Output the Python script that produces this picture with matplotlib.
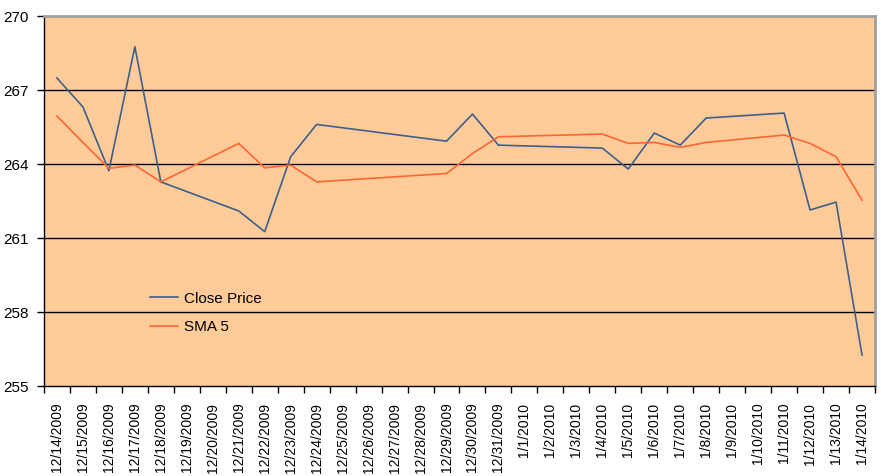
import pandas as pd
import matplotlib
matplotlib.use("Agg")
import matplotlib.pyplot as plt

# calendar axis (one category per day) and the trading days that carry data
start, end = "2009-12-14", "2010-01-14"
trade_days = ["2009-12-14", "2009-12-15", "2009-12-16", "2009-12-17", "2009-12-18",
              "2009-12-21", "2009-12-22", "2009-12-23", "2009-12-24",
              "2009-12-29", "2009-12-30", "2009-12-31",
              "2010-01-04", "2010-01-05", "2010-01-06", "2010-01-07", "2010-01-08",
              "2010-01-11", "2010-01-12", "2010-01-13", "2010-01-14"]
close_price = [267.49, 266.32, 263.73, 268.76, 263.28,
               262.10, 261.26, 264.30, 265.61,
               264.93, 266.03, 264.77,
               264.65, 263.80, 265.26, 264.77, 265.87,
               266.07, 262.14, 262.46, 256.26]
sma5 = [265.95, 264.88, 263.83, 263.96, 263.28,
        264.84, 263.85, 263.96, 263.28,
        263.62, 264.43, 265.11,
        265.22, 264.84, 264.88, 264.68, 264.88,
        265.18, 264.84, 264.30, 262.54]
y_ticks = [255, 258, 261, 264, 267, 270]

days = pd.date_range(start, end, freq="D")
day_labels = [f"{d.month}/{d.day}/{d.year}" for d in days]
x = [(pd.Timestamp(d) - days[0]).days for d in trade_days]

plt.rcParams["font.family"] = ["Liberation Sans Narrow", "Liberation Sans", "DejaVu Sans"]

fig = plt.figure(figsize=(8.81, 4.76), dpi=100)
ax = fig.add_axes([0.0499, 0.189, 0.9433, 0.777])
ax.set_facecolor("#FFCC99")

ax.plot(x, close_price, color="#3D5F8C", lw=1.2, label="Close Price")
ax.plot(x, sma5, color="#FF6633", lw=1.2, label="SMA 5")

for v in y_ticks[1:-1]:
    ax.axhline(v, color="black", lw=1.0, zorder=1)

ax.set_ylim(255, 270)
ax.set_yticks(y_ticks)
ax.set_xlim(-0.5, len(days) - 0.5)
ax.set_xticks([i + 0.5 for i in range(-1, len(days))])
ax.set_xticklabels([])
ax.set_xticks(range(len(days)), minor=True)
ax.set_xticklabels(day_labels, minor=True, rotation=90, va="top", fontsize=10)
ax.tick_params(axis="x", which="major", direction="out", length=5, width=1)
ax.tick_params(axis="x", which="minor", length=0, pad=12)
ax.tick_params(axis="y", direction="out", length=5, width=1, labelsize=11, pad=6)

for s in ["left", "bottom"]:
    ax.spines[s].set_color("black")
    ax.spines[s].set_linewidth(1.0)
for s in ["top", "right"]:
    ax.spines[s].set_color("#A0A0A0")
    ax.spines[s].set_linewidth(2.0)

ax.legend(loc="upper left", bbox_to_anchor=(0.1276, 0.255), frameon=False,
          fontsize=11, handlelength=1.8, handletextpad=0.4, labelspacing=0.95,
          borderpad=0, borderaxespad=0)

fig.savefig("out.png", dpi=100, facecolor="white")
